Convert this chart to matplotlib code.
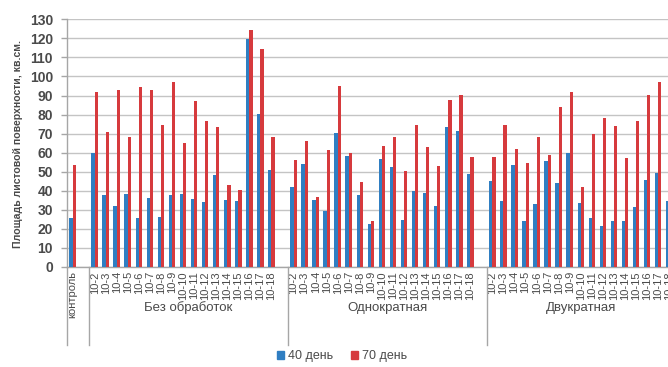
import numpy as np
import matplotlib
matplotlib.use("Agg")
import matplotlib.pyplot as plt
from matplotlib.patches import Patch

plt.rcParams['font.family'] = ['Liberation Sans', 'DejaVu Sans']

# ---- data ----
variants = ["10-2", "10-3", "10-4", "10-5", "10-6", "10-7", "10-8", "10-9", "10-10",
            "10-11", "10-12", "10-13", "10-14", "10-15", "10-16", "10-17", "10-18"]
groups = ["Без обработок", "Однократная", "Двукратная"]
control_label = "контроль"
series_names = ["40 день", "70 день"]

control_40 = 25.5
control_70 = 53.4

bez_40 = [59.7, 37.6, 32.0, 38.5, 25.5, 36.4, 26.1, 37.6, 38.1, 35.9, 34.1, 48.1, 35.3, 34.5, 119.7, 80.1, 50.9]
bez_70 = [91.9, 70.9, 92.9, 68.2, 94.5, 92.9, 74.4, 97.2, 64.9, 87.0, 76.6, 73.5, 42.9, 40.4, 124.2, 114.4, 68.2]

odno_40 = [42.0, 54.1, 35.3, 29.4, 70.3, 58.3, 37.6, 22.7, 56.9, 52.3, 24.8, 40.1, 38.8, 31.8, 73.5, 71.2, 49.0]
odno_70 = [56.2, 66.0, 36.7, 61.4, 95.2, 59.7, 44.8, 24.1, 63.7, 68.0, 50.6, 74.4, 62.8, 53.2, 87.5, 90.5, 57.9]

dvu_40 = [45.0, 34.8, 53.4, 24.0, 33.1, 55.6, 43.9, 59.7, 33.4, 25.5, 21.7, 24.3, 24.0, 31.7, 45.8, 49.2, 34.5]
dvu_70 = [57.9, 74.5, 61.8, 54.8, 68.4, 58.6, 84.2, 91.7, 42.0, 70.0, 78.2, 73.8, 57.4, 76.6, 90.5, 97.3, np.nan]

blue = "#2f7ec2"
red = "#d63a3d"
text_col = "#4a4a4a"
grid_col = "#c4c4c4"

# ---- category layout: control + blank slot, then three groups each followed by a blank slot ----
n = len(variants)
ctrl_pos = 0
group_starts = [2, 2 + n + 1, 2 + 2 * (n + 1)]
positions, labels, v40, v70 = [ctrl_pos], [control_label], [control_40], [control_70]
for start, a, b in zip(group_starts, [bez_40, odno_40, dvu_40], [bez_70, odno_70, dvu_70]):
    positions += list(range(start, start + n))
    labels += variants
    v40 += a
    v70 += b
positions = np.array(positions, dtype=float)
n_slots = group_starts[-1] + n

W, H = 668, 367
fig = plt.figure(figsize=(W / 100, H / 100), dpi=100)
slot_px = 11.05
ax_left, ax_bottom, ax_top = 67, 267, 19.3
ax = fig.add_axes([ax_left / W, (H - ax_bottom) / H,
                   n_slots * slot_px / W, (ax_bottom - ax_top) / H])

bw = 0.3
ax.bar(positions - bw / 2, v40, width=bw, color=blue, zorder=3)
ax.bar(positions + bw / 2, v70, width=bw, color=red, zorder=3)

ax.set_xlim(-0.5, n_slots - 0.5)
ax.set_ylim(0, 130)
ax.set_yticks(np.arange(0, 131, 10))
ax.yaxis.grid(True, color=grid_col, linewidth=1.0, zorder=0)
ax.set_axisbelow(True)

for s in ["top", "right"]:
    ax.spines[s].set_visible(False)
for s in ["left", "bottom"]:
    ax.spines[s].set_color("#a6a6a6")
    ax.spines[s].set_linewidth(1.0)

ax.tick_params(axis="y", colors="#a6a6a6", length=4, width=1.0, labelcolor=text_col,
               labelsize=10, pad=6)
for t in ax.get_yticklabels():
    t.set_fontweight("bold")

ax.set_xticks(positions)
ax.set_xticklabels(labels, rotation=90, fontsize=8, color=text_col, va="top")
ax.tick_params(axis="x", length=0, pad=3)

# group separators and group names under the axis
xt = ax.get_xaxis_transform()
sep_bottom = -(345 - 267) / (ax_bottom - ax_top)
for x in [-0.5, 1.5, group_starts[1] - 0.5, group_starts[2] - 0.5]:
    ax.plot([x, x], [0, sep_bottom], transform=xt, color="#a6a6a6", linewidth=1.0, clip_on=False)
label_y = -(308 - 267) / (ax_bottom - ax_top)
for name, start in zip(groups, group_starts):
    ax.text(start + (n - 1) / 2 + (0.5 if start != group_starts[-1] else 0), label_y, name,
            transform=xt, ha="center", va="center", fontsize=9.5, color=text_col)

fig.text(18 / W, (H - 144) / H, "Площадь листовой поверхности, кв.см.", rotation=90,
         ha="center", va="center", fontsize=7.6, fontweight="bold", color=text_col)

handles = [Patch(color=blue, label=series_names[0]), Patch(color=red, label=series_names[1])]
fig.legend(handles=handles, loc="center", bbox_to_anchor=(342 / W, (H - 356) / H), ncol=2,
           frameon=False, fontsize=9, handlelength=0.6, handleheight=0.6,
           handletextpad=0.3, columnspacing=1.4, labelcolor=text_col)

fig.savefig("out.png", dpi=100)
